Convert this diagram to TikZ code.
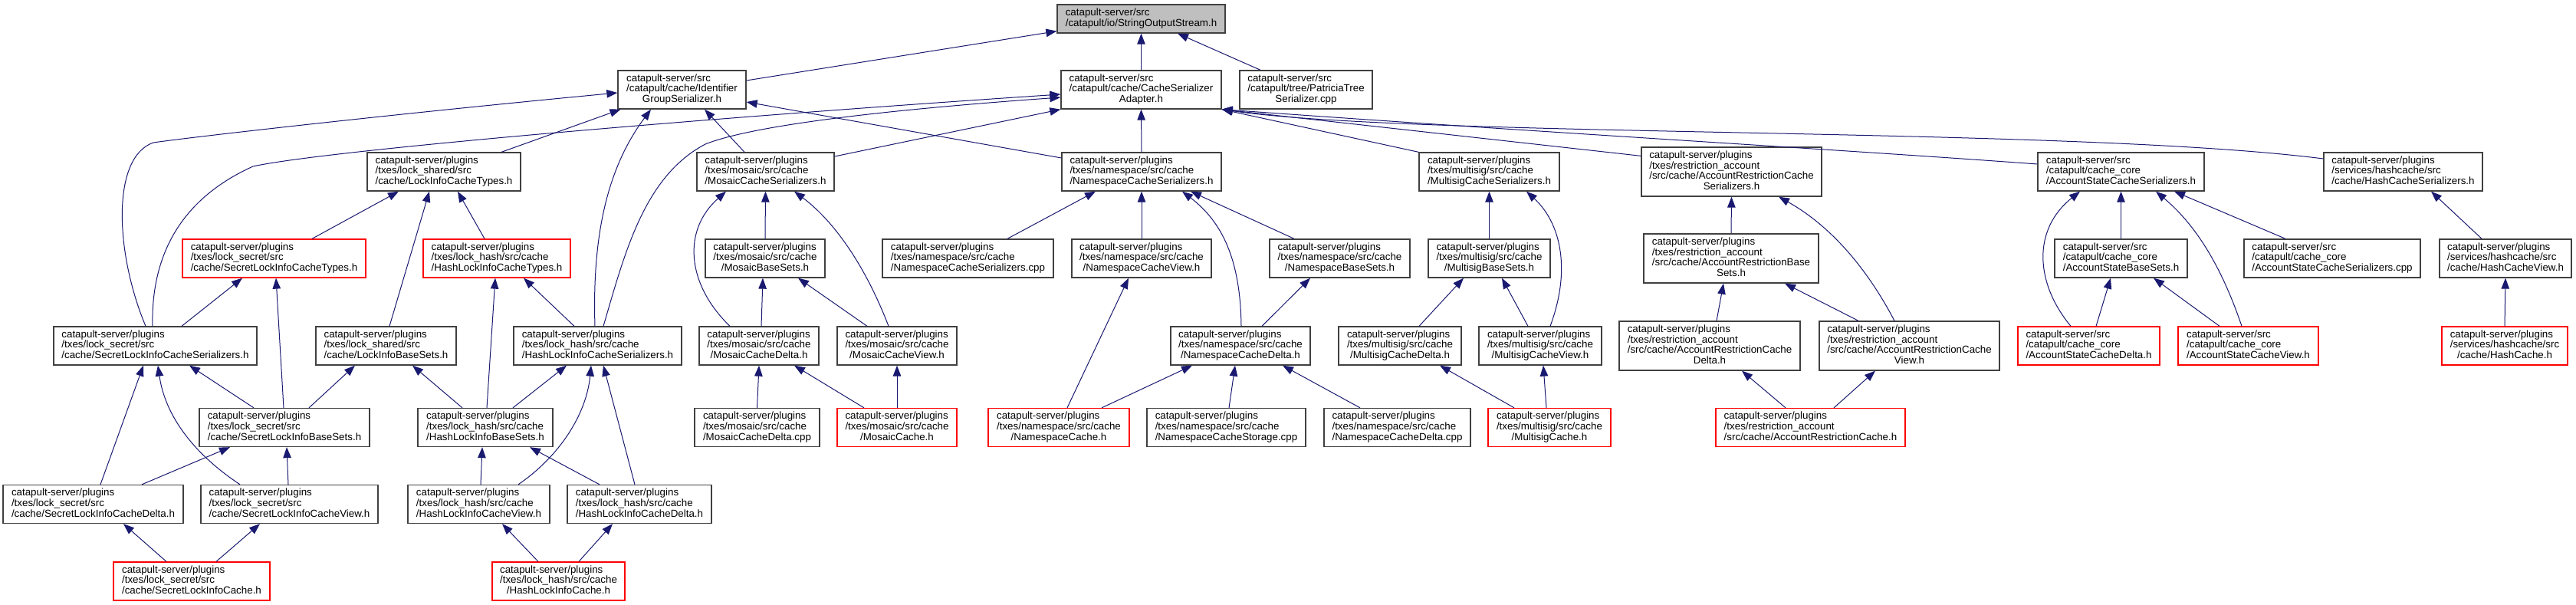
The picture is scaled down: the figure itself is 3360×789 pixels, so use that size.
\documentclass[tikz,border=0pt]{standalone}
\usepackage{fontspec}
\setmainfont{Liberation Sans}
\usetikzlibrary{arrows.meta}
\definecolor{edgeblue}{RGB}{25,25,112}
\definecolor{rootgray}{RGB}{191,191,191}
\newcommand{\lblb}[2]{\begin{tabular}{@{}l@{}}#1\\\multicolumn{1}{@{}c@{}}{#2}\end{tabular}}
\newcommand{\lblc}[3]{\begin{tabular}{@{}l@{}}#1\\#2\\\multicolumn{1}{@{}c@{}}{#3}\end{tabular}}
\newcommand{\lbld}[4]{\begin{tabular}{@{}l@{}}#1\\#2\\#3\\\multicolumn{1}{@{}c@{}}{#4}\end{tabular}}
\tikzset{
	file/.style={draw=black!75, line width=1.3pt, fill=white, inner sep=0pt, minimum height=50pt, font=\fontsize{13.35}{13.3}\selectfont},
	redfile/.style={file, draw=red},
	rootfile/.style={file, fill=rootgray, minimum height=37pt},
	tallfile/.style={file, minimum height=64pt},
	dep/.style={draw=edgeblue, line width=1pt, -{Triangle[length=14pt,width=10.5pt]}},
}
\begin{document}
\begin{tikzpicture}[x=1pt,y=-1pt]
	\def\yA{24.5}
	\def\yB{117}
	\def\yC{224}
	\def\yD{337}
	\def\yE{451}
	\def\yF{557.5}
	\def\yG{657.5}
	\def\yH{758}
	\useasboundingbox (0,0) rectangle (3360,789);
	\node[rootfile, minimum width=219pt] (sos) at (1488.5,\yA) {\lblb{catapult-server/src}{/catapult/io/StringOutputStream.h}};
	\node[file, minimum width=167pt] (igs) at (889.5,\yB) {\lblc{catapult-server/src}{/catapult/cache/Identifier}{GroupSerializer.h}};
	\node[file, minimum width=209pt] (csa) at (1488.5,\yB) {\lblc{catapult-server/src}{/catapult/cache/CacheSerializer}{Adapter.h}};
	\node[file, minimum width=173pt] (pts) at (1703.5,\yB) {\lblc{catapult-server/src}{/catapult/tree/PatriciaTree}{Serializer.cpp}};
	\node[file, minimum width=200pt] (lict) at (579,\yC) {\lblc{catapult-server/plugins}{/txes/lock\_shared/src}{/cache/LockInfoCacheTypes.h}};
	\node[file, minimum width=179pt] (mcs) at (998.5,\yC) {\lblc{catapult-server/plugins}{/txes/mosaic/src/cache}{/MosaicCacheSerializers.h}};
	\node[file, minimum width=208pt] (ncs) at (1489,\yC) {\lblc{catapult-server/plugins}{/txes/namespace/src/cache}{/NamespaceCacheSerializers.h}};
	\node[file, minimum width=183pt] (mucs) at (1942.5,\yC) {\lblc{catapult-server/plugins}{/txes/multisig/src/cache}{/MultisigCacheSerializers.h}};
	\node[tallfile, minimum width=235pt] (arcs) at (2258.5,\yC) {\lbld{catapult-server/plugins}{/txes/restriction\_account}{/src/cache/AccountRestrictionCache}{Serializers.h}};
	\node[file, minimum width=217pt] (ascs) at (2766.5,\yC) {\lblc{catapult-server/src}{/catapult/cache\_core}{/AccountStateCacheSerializers.h}};
	\node[file, minimum width=207pt] (hcs) at (3134.5,\yC) {\lblc{catapult-server/plugins}{/services/hashcache/src}{/cache/HashCacheSerializers.h}};
	\node[redfile, minimum width=239pt] (slict) at (357.5,\yD) {\lblc{catapult-server/plugins}{/txes/lock\_secret/src}{/cache/SecretLockInfoCacheTypes.h}};
	\node[redfile, minimum width=192pt] (hlict) at (648,\yD) {\lblc{catapult-server/plugins}{/txes/lock\_hash/src/cache}{/HashLockInfoCacheTypes.h}};
	\node[file, minimum width=156pt] (mbs) at (998,\yD) {\lblc{catapult-server/plugins}{/txes/mosaic/src/cache}{/MosaicBaseSets.h}};
	\node[file, minimum width=223pt] (ncscpp) at (1262.5,\yD) {\lblc{catapult-server/plugins}{/txes/namespace/src/cache}{/NamespaceCacheSerializers.cpp}};
	\node[file, minimum width=182pt] (ncv) at (1489,\yD) {\lblc{catapult-server/plugins}{/txes/namespace/src/cache}{/NamespaceCacheView.h}};
	\node[file, minimum width=183pt] (nbs) at (1747.5,\yD) {\lblc{catapult-server/plugins}{/txes/namespace/src/cache}{/NamespaceBaseSets.h}};
	\node[file, minimum width=159pt] (mubs) at (1942.5,\yD) {\lblc{catapult-server/plugins}{/txes/multisig/src/cache}{/MultisigBaseSets.h}};
	\node[tallfile, minimum width=228pt] (arbs) at (2258,\yD) {\lbld{catapult-server/plugins}{/txes/restriction\_account}{/src/cache/AccountRestrictionBase}{Sets.h}};
	\node[file, minimum width=173pt] (asbs) at (2766.5,\yD) {\lblc{catapult-server/src}{/catapult/cache\_core}{/AccountStateBaseSets.h}};
	\node[file, minimum width=230pt] (ascscpp) at (3042,\yD) {\lblc{catapult-server/src}{/catapult/cache\_core}{/AccountStateCacheSerializers.cpp}};
	\node[file, minimum width=172pt] (hcv) at (3268,\yD) {\lblc{catapult-server/plugins}{/services/hashcache/src}{/cache/HashCacheView.h}};
	\node[file, minimum width=265pt] (slics) at (202.5,\yE) {\lblc{catapult-server/plugins}{/txes/lock\_secret/src}{/cache/SecretLockInfoCacheSerializers.h}};
	\node[file, minimum width=183pt] (libs) at (503.5,\yE) {\lblc{catapult-server/plugins}{/txes/lock\_shared/src}{/cache/LockInfoBaseSets.h}};
	\node[file, minimum width=219pt] (hlics) at (779.5,\yE) {\lblc{catapult-server/plugins}{/txes/lock\_hash/src/cache}{/HashLockInfoCacheSerializers.h}};
	\node[file, minimum width=156pt] (mcd) at (990,\yE) {\lblc{catapult-server/plugins}{/txes/mosaic/src/cache}{/MosaicCacheDelta.h}};
	\node[file, minimum width=156pt] (mcv) at (1170,\yE) {\lblc{catapult-server/plugins}{/txes/mosaic/src/cache}{/MosaicCacheView.h}};
	\node[file, minimum width=182pt] (ncd) at (1618,\yE) {\lblc{catapult-server/plugins}{/txes/namespace/src/cache}{/NamespaceCacheDelta.h}};
	\node[file, minimum width=160pt] (mucd) at (1826,\yE) {\lblc{catapult-server/plugins}{/txes/multisig/src/cache}{/MultisigCacheDelta.h}};
	\node[file, minimum width=160pt] (mucv) at (2009,\yE) {\lblc{catapult-server/plugins}{/txes/multisig/src/cache}{/MultisigCacheView.h}};
	\node[tallfile, minimum width=236pt] (arcd) at (2230,\yE) {\lbld{catapult-server/plugins}{/txes/restriction\_account}{/src/cache/AccountRestrictionCache}{Delta.h}};
	\node[tallfile, minimum width=235pt] (arcv) at (2490.5,\yE) {\lbld{catapult-server/plugins}{/txes/restriction\_account}{/src/cache/AccountRestrictionCache}{View.h}};
	\node[redfile, minimum width=185pt] (ascd) at (2724.5,\yE) {\lblc{catapult-server/src}{/catapult/cache\_core}{/AccountStateCacheDelta.h}};
	\node[redfile, minimum width=183pt] (ascv) at (2932.5,\yE) {\lblc{catapult-server/src}{/catapult/cache\_core}{/AccountStateCacheView.h}};
	\node[redfile, minimum width=164pt] (hc) at (3267,\yE) {\lblc{catapult-server/plugins}{/services/hashcache/src}{/cache/HashCache.h}};
	\node[file, minimum width=222pt] (slibs) at (371,\yF) {\lblc{catapult-server/plugins}{/txes/lock\_secret/src}{/cache/SecretLockInfoBaseSets.h}};
	\node[file, minimum width=176pt] (hlibs) at (633,\yF) {\lblc{catapult-server/plugins}{/txes/lock\_hash/src/cache}{/HashLockInfoBaseSets.h}};
	\node[file, minimum width=163pt] (mcdcpp) at (987.5,\yF) {\lblc{catapult-server/plugins}{/txes/mosaic/src/cache}{/MosaicCacheDelta.cpp}};
	\node[redfile, minimum width=156pt] (mc) at (1170,\yF) {\lblc{catapult-server/plugins}{/txes/mosaic/src/cache}{/MosaicCache.h}};
	\node[redfile, minimum width=184pt] (nc) at (1381,\yF) {\lblc{catapult-server/plugins}{/txes/namespace/src/cache}{/NamespaceCache.h}};
	\node[file, minimum width=207pt] (ncstor) at (1599.5,\yF) {\lblc{catapult-server/plugins}{/txes/namespace/src/cache}{/NamespaceCacheStorage.cpp}};
	\node[file, minimum width=191pt] (ncdcpp) at (1822.5,\yF) {\lblc{catapult-server/plugins}{/txes/namespace/src/cache}{/NamespaceCacheDelta.cpp}};
	\node[redfile, minimum width=160pt] (muc) at (2021,\yF) {\lblc{catapult-server/plugins}{/txes/multisig/src/cache}{/MultisigCache.h}};
	\node[redfile, minimum width=247pt] (arc) at (2361.5,\yF) {\lblc{catapult-server/plugins}{/txes/restriction\_account}{/src/cache/AccountRestrictionCache.h}};
	\node[file, minimum width=235pt] (slicd) at (121.5,\yG) {\lblc{catapult-server/plugins}{/txes/lock\_secret/src}{/cache/SecretLockInfoCacheDelta.h}};
	\node[file, minimum width=231pt] (slicv) at (377.5,\yG) {\lblc{catapult-server/plugins}{/txes/lock\_secret/src}{/cache/SecretLockInfoCacheView.h}};
	\node[file, minimum width=185pt] (hlicv) at (624.5,\yG) {\lblc{catapult-server/plugins}{/txes/lock\_hash/src/cache}{/HashLockInfoCacheView.h}};
	\node[file, minimum width=188pt] (hlicd) at (834,\yG) {\lblc{catapult-server/plugins}{/txes/lock\_hash/src/cache}{/HashLockInfoCacheDelta.h}};
	\node[redfile, minimum width=204pt] (slic) at (250,\yH) {\lblc{catapult-server/plugins}{/txes/lock\_secret/src}{/cache/SecretLockInfoCache.h}};
	\node[redfile, minimum width=173pt] (hlic) at (728.5,\yH) {\lblc{catapult-server/plugins}{/txes/lock\_hash/src/cache}{/HashLockInfoCache.h}};
	\foreach \src/\dst in {csa/sos, ncs/csa, mbs/mcs, mcdcpp/mcd, mc/mcv, ncv/ncs, mubs/mucs, arbs/arcs, asbs/ascs, hc/hcv}
		\draw[dep] (\src.north) -- (\dst.south);
	\foreach \src/\sx/\dst/\dx in {pts/-59.5/sos/47.5, lict/75/igs/-80, mcs/-27.5/igs/29.5, slict/49.5/lict/-59, libs/4.5/lict/-19, hlict/-16/lict/18,
		slics/34.5/slict/-41.5, slibs/-1/slict/2.5, hlics/-30.5/hlict/35, hlibs/2/hlict/-2, slibs/-40/slics/44.5, slibs/32/libs/-40.5,
		hlibs/-30/libs/34.5, hlibs/36/hlics/-40.5, slicd/9.5/slics/-15.5, slicd/63.5/slibs/-71, slicv/-1.5/slibs/3, hlicv/2.5/hlibs/-4,
		hlicd/-52/hlibs/58, hlicd/-6/hlics/7.5, slic/-33/slicd/39.5, slic/32/slicv/-38.5, hlic/-26.5/hlicv/30.5, hlic/26.5/hlicd/-35,
		mcd/3/mbs/-3, mcv/-39/mbs/43, mc/-43/mcd/46, ncscpp/51.5/ncs/-60, nbs/-59.5/ncs/64, ncd/28/nbs/-38.5, nc/11/ncv/-17,
		nc/56/ncd/-63, ncstor/3.5/ncd/-7, ncdcpp/-48.5/ncd/55, mucd/25/mubs/-33.5, mucv/-16/mubs/16.5, muc/-46/mucd/52, muc/-4/mucv/4,
		arcd/9/arbs/-10, arcv/-66.5/arbs/70, arc/-32.5/arcd/42, arc/30.5/arcv/-44.5, ascscpp/-61/ascs/69.5, ascd/9.5/asbs/-13.5,
		ascv/-37.5/asbs/42.5, hcv/-31/hcs/36.5}
		\draw[dep] ([xshift=\sx pt]\src.north) -- ([xshift=\dx pt]\dst.south);
	\draw[dep] ([yshift=12pt]igs.east) -- ([yshift=3pt]sos.south west);
	\draw[dep] ([yshift=20pt]mcs.east) -- (csa.south west);
	\draw[dep] ([yshift=18pt]ncs.west) -- ([yshift=-16pt]igs.east);
	\draw[dep] (mucs.north west) -- (csa.south east);
	\draw[dep] ([yshift=-12pt]arcs.north west) -- (csa.south east);
	\draw[dep] ([yshift=10pt]ascs.west) .. controls (2400,195) and (2000,172) .. (csa.south east);
	\draw[dep] ([yshift=17pt]hcs.west) .. controls (2700,165) and (1850,180) .. (csa.south east);
	\draw[dep] ([xshift=-12.5pt]slics.north) .. controls (150,330) and (145,205) .. (200,186) .. controls (240,180) and (500,150) .. ([yshift=-4pt]igs.west);
	\draw[dep] ([xshift=-3.5pt]slics.north) .. controls (197,340) and (230,262) .. (330,217) .. controls (420,197) and (900,155) .. ([yshift=-6pt]csa.west);
	\draw[dep] ([xshift=-3.5pt]hlics.north) .. controls (772,300) and (795,215) .. ([xshift=-40.5pt]igs.south);
	\draw[dep] ([xshift=7.5pt]hlics.north) .. controls (815,330) and (840,230) .. (920,188) .. controls (990,160) and (1200,140) .. ([yshift=-10pt]csa.west);
	\draw[dep] ([xshift=-64.5pt]slicv.north) .. controls (250,590) and (215,540) .. ([xshift=3.5pt]slics.south);
	\draw[dep] ([xshift=51.5pt]hlicv.north) .. controls (730,595) and (765,540) .. ([xshift=-8.5pt]hlics.south);
	\draw[dep] ([xshift=-38pt]mcd.north) .. controls (895,370) and (890,300) .. ([xshift=-51.5pt]mcs.south);
	\draw[dep] ([xshift=-11pt]mcv.north) .. controls (1130,350) and (1090,290) .. ([xshift=37.5pt]mcs.south);
	\draw[dep] ([xshift=1pt]ncd.north) .. controls (1618,340) and (1595,290) .. ([xshift=53pt]ncs.south);
	\draw[dep] ([xshift=13pt]mucv.north) .. controls (2050,350) and (2035,290) .. ([xshift=48.5pt]mucs.south);
	\draw[dep] ([xshift=-19.5pt]arcv.north) .. controls (2430,340) and (2380,290) .. ([xshift=61.5pt]arcs.south);
	\draw[dep] ([xshift=-23.5pt]ascd.north) .. controls (2655,370) and (2650,300) .. ([xshift=-53.5pt]ascs.south);
	\draw[dep] ([xshift=-8.5pt]ascv.north) .. controls (2895,340) and (2860,290) .. ([xshift=45.5pt]ascs.south);
\end{tikzpicture}
\end{document}
